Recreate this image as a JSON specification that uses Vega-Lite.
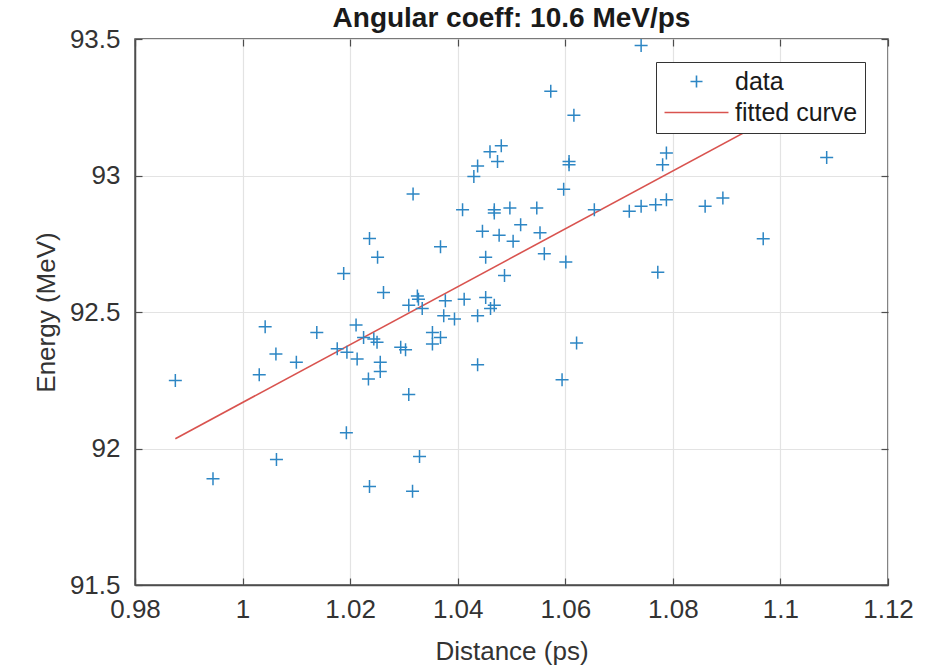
{
  "$schema": "https://vega.github.io/schema/vega-lite/v6.json",
  "width": 753,
  "height": 546,
  "autosize": {"type": "none"},
  "padding": {"left": 135, "top": 39, "right": 56, "bottom": 84},
  "background": "white",
  "title": {"text": "Angular coeff: 10.6 MeV/ps", "font": "Liberation Sans", "fontSize": 28, "fontWeight": "bold", "color": "#1a1a1a", "anchor": "middle", "offset": -7},
  "config": {
    "view": {"stroke": "#4d4d4d", "strokeWidth": 1.5},
    "axis": {
      "labelFont": "Liberation Sans", "labelFontSize": 26, "labelColor": "#333333",
      "titleFont": "Liberation Sans", "titleFontSize": 26, "titleFontWeight": "normal", "titleColor": "#333333",
      "grid": true, "gridColor": "#e3e3e3", "gridWidth": 1.2,
      "domainColor": "#4d4d4d", "domainWidth": 1.5,
      "tickColor": "#4d4d4d", "tickSize": -7, "tickWidth": 1.2
    },
    "legend": {"title": null, "orient": "top-right", "offset": 23, "fillColor": "white", "strokeColor": "#333333",
               "padding": 7, "labelFont": "Liberation Sans", "labelFontSize": 25, "labelColor": "#1a1a1a",
               "symbolSize": 144, "symbolStrokeWidth": 1.6, "labelOffset": 47, "rowPadding": 5}
  },
  "datasets": {
    "pts": [
      {"distance": 0.9875, "energy": 92.249, "series": "data"},
      {"distance": 1.0031, "energy": 92.270, "series": "data"},
      {"distance": 1.0042, "energy": 92.446, "series": "data"},
      {"distance": 1.0062, "energy": 92.346, "series": "data"},
      {"distance": 1.0100, "energy": 92.316, "series": "data"},
      {"distance": 1.0138, "energy": 92.425, "series": "data"},
      {"distance": 1.0188, "energy": 92.641, "series": "data"},
      {"distance": 1.0236, "energy": 92.769, "series": "data"},
      {"distance": 1.0251, "energy": 92.701, "series": "data"},
      {"distance": 1.0262, "energy": 92.571, "series": "data"},
      {"distance": 1.0211, "energy": 92.452, "series": "data"},
      {"distance": 1.0225, "energy": 92.407, "series": "data"},
      {"distance": 1.0176, "energy": 92.365, "series": "data"},
      {"distance": 1.0194, "energy": 92.353, "series": "data"},
      {"distance": 1.0213, "energy": 92.328, "series": "data"},
      {"distance": 1.0250, "energy": 92.389, "series": "data"},
      {"distance": 1.0256, "energy": 92.316, "series": "data"},
      {"distance": 1.0256, "energy": 92.282, "series": "data"},
      {"distance": 1.0234, "energy": 92.255, "series": "data"},
      {"distance": 1.0244, "energy": 92.401, "series": "data"},
      {"distance": 1.0368, "energy": 92.739, "series": "data"},
      {"distance": 1.0446, "energy": 92.796, "series": "data"},
      {"distance": 1.0477, "energy": 92.781, "series": "data"},
      {"distance": 1.0503, "energy": 92.759, "series": "data"},
      {"distance": 1.0517, "energy": 92.820, "series": "data"},
      {"distance": 1.0553, "energy": 92.790, "series": "data"},
      {"distance": 1.0561, "energy": 92.713, "series": "data"},
      {"distance": 1.0601, "energy": 92.683, "series": "data"},
      {"distance": 1.0452, "energy": 92.701, "series": "data"},
      {"distance": 1.0487, "energy": 92.634, "series": "data"},
      {"distance": 1.0325, "energy": 92.559, "series": "data"},
      {"distance": 1.0309, "energy": 92.525, "series": "data"},
      {"distance": 1.0334, "energy": 92.513, "series": "data"},
      {"distance": 1.0377, "energy": 92.541, "series": "data"},
      {"distance": 1.0412, "energy": 92.547, "series": "data"},
      {"distance": 1.0452, "energy": 92.553, "series": "data"},
      {"distance": 1.0468, "energy": 92.525, "series": "data"},
      {"distance": 1.0461, "energy": 92.513, "series": "data"},
      {"distance": 1.0374, "energy": 92.486, "series": "data"},
      {"distance": 1.0394, "energy": 92.474, "series": "data"},
      {"distance": 1.0437, "energy": 92.486, "series": "data"},
      {"distance": 1.0353, "energy": 92.425, "series": "data"},
      {"distance": 1.0368, "energy": 92.407, "series": "data"},
      {"distance": 1.0353, "energy": 92.383, "series": "data"},
      {"distance": 1.0294, "energy": 92.371, "series": "data"},
      {"distance": 1.0303, "energy": 92.362, "series": "data"},
      {"distance": 1.0437, "energy": 92.307, "series": "data"},
      {"distance": 1.0309, "energy": 92.198, "series": "data"},
      {"distance": 1.0621, "energy": 92.386, "series": "data"},
      {"distance": 1.0594, "energy": 92.252, "series": "data"},
      {"distance": 1.0573, "energy": 93.309, "series": "data"},
      {"distance": 1.0616, "energy": 93.221, "series": "data"},
      {"distance": 1.0607, "energy": 93.051, "series": "data"},
      {"distance": 1.0607, "energy": 93.039, "series": "data"},
      {"distance": 1.0481, "energy": 93.109, "series": "data"},
      {"distance": 1.0460, "energy": 93.087, "series": "data"},
      {"distance": 1.0474, "energy": 93.051, "series": "data"},
      {"distance": 1.0437, "energy": 93.035, "series": "data"},
      {"distance": 1.0430, "energy": 92.996, "series": "data"},
      {"distance": 1.0597, "energy": 92.950, "series": "data"},
      {"distance": 1.0317, "energy": 92.932, "series": "data"},
      {"distance": 1.0409, "energy": 92.875, "series": "data"},
      {"distance": 1.0468, "energy": 92.875, "series": "data"},
      {"distance": 1.0468, "energy": 92.863, "series": "data"},
      {"distance": 1.0497, "energy": 92.881, "series": "data"},
      {"distance": 1.0547, "energy": 92.881, "series": "data"},
      {"distance": 1.0654, "energy": 92.875, "series": "data"},
      {"distance": 1.0719, "energy": 92.869, "series": "data"},
      {"distance": 1.0741, "energy": 92.887, "series": "data"},
      {"distance": 1.0768, "energy": 92.893, "series": "data"},
      {"distance": 1.0788, "energy": 92.911, "series": "data"},
      {"distance": 1.0741, "energy": 93.476, "series": "data"},
      {"distance": 1.0788, "energy": 93.082, "series": "data"},
      {"distance": 1.0781, "energy": 93.039, "series": "data"},
      {"distance": 1.1086, "energy": 93.066, "series": "data"},
      {"distance": 1.0860, "energy": 92.887, "series": "data"},
      {"distance": 1.0893, "energy": 92.918, "series": "data"},
      {"distance": 1.0772, "energy": 92.646, "series": "data"},
      {"distance": 1.0968, "energy": 92.768, "series": "data"},
      {"distance": 0.9945, "energy": 91.889, "series": "data"},
      {"distance": 1.0063, "energy": 91.960, "series": "data"},
      {"distance": 1.0193, "energy": 92.058, "series": "data"},
      {"distance": 1.0236, "energy": 91.861, "series": "data"},
      {"distance": 1.0329, "energy": 91.971, "series": "data"},
      {"distance": 1.0316, "energy": 91.843, "series": "data"},
      {"distance": 1.0327, "energy": 92.547, "series": "data"}
    ],
    "fit": [
      {"distance": 0.9875, "energy": 92.036, "series": "fitted curve"},
      {"distance": 1.1086, "energy": 93.320, "series": "fitted curve"}
    ]
  },
  "layer": [
    {
      "data": {"name": "fit"},
      "mark": {"type": "line", "strokeWidth": 1.6, "clip": true},
      "encoding": {
        "x": {"field": "distance", "type": "quantitative", "scale": {"domain": [0.98, 1.12], "nice": false, "zero": false},
              "axis": {"orient": "top", "labels": false, "title": null, "grid": false, "domain": false, "values": [0.98, 1.0, 1.02, 1.04, 1.06, 1.08, 1.1, 1.12]}},
        "y": {"field": "energy", "type": "quantitative", "scale": {"domain": [91.5, 93.5], "nice": false, "zero": false},
              "axis": {"orient": "right", "labels": false, "title": null, "grid": false, "domain": false, "values": [91.5, 92, 92.5, 93, 93.5]}},
        "color": {"field": "series", "type": "nominal",
                  "scale": {"domain": ["data", "fitted curve"], "range": ["#2d86c4", "#d9534f"]},
                  "legend": {"symbolType": "stroke",
                             "encode": {"symbols": {"update": {
                               "shape": {"signal": "datum.value === 'data' ? 'M2.5,0H4.5M3.5,-1V1' : 'M-1.83,0H8.83'"},
                               "size": {"value": 144},
                               "stroke": {"signal": "datum.value === 'data' ? '#2d86c4' : '#d9534f'"},
                               "strokeWidth": {"value": 1.6},
                               "fill": {"value": "transparent"}}}}}}
      }
    },
    {
      "data": {"name": "pts"},
      "mark": {"type": "point", "shape": "M-1,0H1M0,-1V1", "filled": false, "size": 169, "strokeWidth": 1.5, "opacity": 1},
      "encoding": {
        "x": {"field": "distance", "type": "quantitative", "scale": {"domain": [0.98, 1.12], "nice": false, "zero": false},
              "axis": {"orient": "bottom", "title": "Distance (ps)", "grid": true, "format": ".3~g", "values": [0.98, 1.0, 1.02, 1.04, 1.06, 1.08, 1.1, 1.12], "labelPadding": 18, "titlePadding": 16, "labelFlush": false}},
        "y": {"field": "energy", "type": "quantitative", "scale": {"domain": [91.5, 93.5], "nice": false, "zero": false},
              "axis": {"orient": "left", "title": "Energy (MeV)", "grid": true, "values": [91.5, 92, 92.5, 93, 93.5], "format": ".1~f", "labelPadding": 22, "titlePadding": 10, "labelFlush": false}},
        "color": {"field": "series", "type": "nominal",
                  "scale": {"domain": ["data", "fitted curve"], "range": ["#2d86c4", "#d9534f"]}}
      }
    }
  ],
  "resolve": {"axis": {"x": "independent", "y": "independent"}}
}
